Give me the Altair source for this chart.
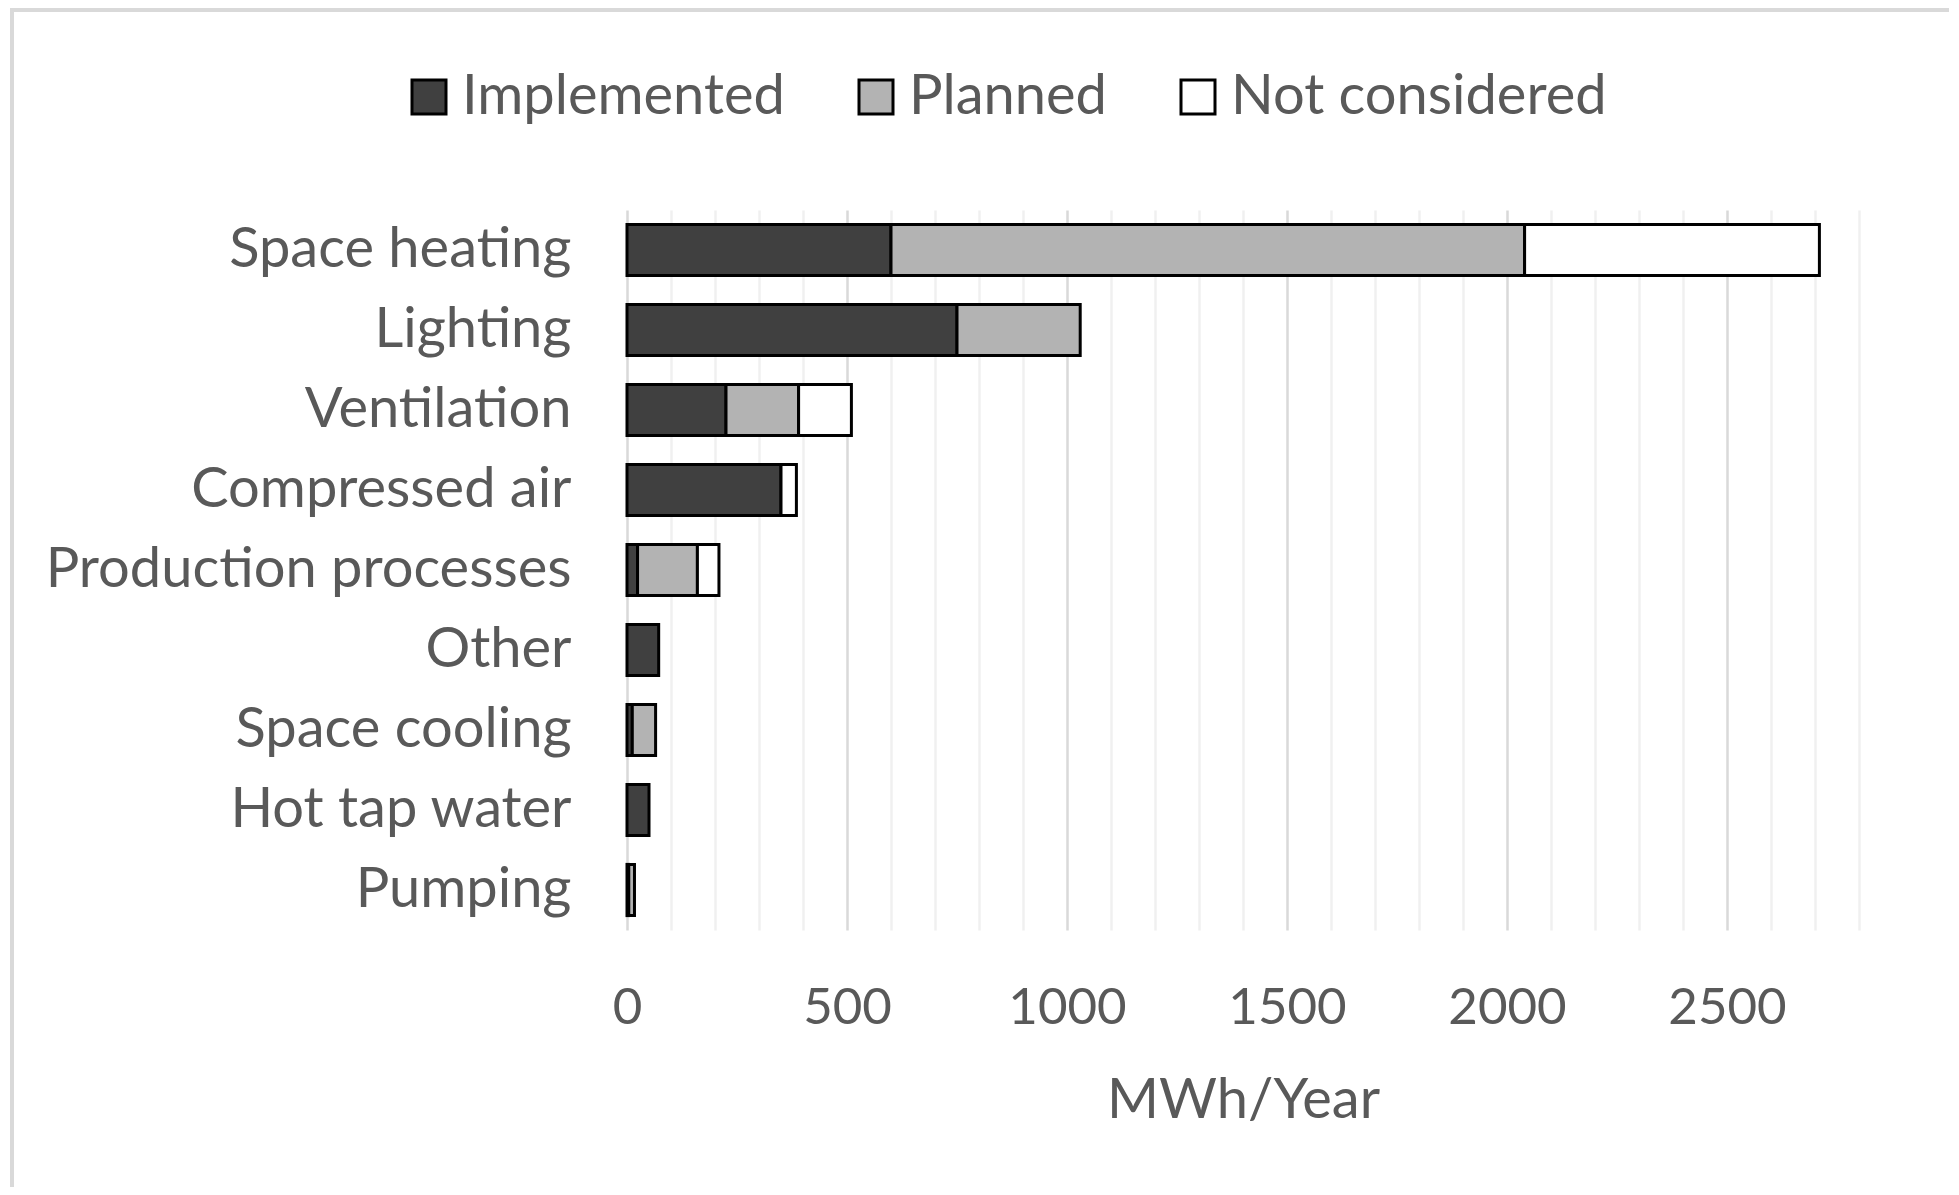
import altair as alt
import pandas as pd

categories = ["Space heating", "Lighting", "Ventilation", "Compressed air",
              "Production processes", "Other", "Space cooling", "Hot tap water", "Pumping"]
series = ["Implemented", "Planned", "Not considered"]
implemented = [600, 750, 225, 350, 24, 72, 12, 50, 4]
planned = [1440, 280, 165, 0, 136, 0, 53, 0, 13]
not_considered = [670, 0, 120, 35, 49, 0, 0, 0, 0]
x_ticks = list(range(0, 2900, 100))
colors = ["#404040", "#b3b3b3", "#ffffff"]

rows = []
for i, c in enumerate(categories):
    for k, (s, vals) in enumerate(zip(series, [implemented, planned, not_considered])):
        if vals[i] > 0:
            rows.append({"category": c, "series": s, "order": k, "value": vals[i]})
df = pd.DataFrame(rows)

FONT = "Lato"
TXT = "#595959"
FS = 56

bars = alt.Chart(df).mark_bar(stroke="black", strokeWidth=3).encode(
    y=alt.Y("category:N", sort=categories,
            scale=alt.Scale(paddingInner=0.36, paddingOuter=0.18),
            axis=alt.Axis(title=None, ticks=False, domain=False, labelPadding=56,
                          labelFontSize=FS, labelFont=FONT, labelColor=TXT, grid=False,
                          labelLimit=0)),
    x=alt.X("sum(value):Q", stack="zero",
            scale=alt.Scale(domain=[0, 2800], nice=False),
            axis=alt.Axis(title="MWh/Year", values=x_ticks, ticks=False, domain=False,
                          format="d",
                          labelExpr="datum.value % 500 === 0 ? datum.label : ''",
                          labelPadding=53, labelFontSize=51, labelFont=FONT, labelColor=TXT,
                          labelFlush=False,
                          gridColor={"condition": {"test": "datum.value % 500 === 0", "value": "#d9d9d9"},
                                     "value": "#f0f0f0"},
                          gridWidth=2.5,
                          titleFontSize=FS, titleFont=FONT, titleColor=TXT, titleFontWeight="normal",
                          titleBaseline="alphabetic", titleY=187, titleX=616, titleAlign="center")),
    color=alt.Color("series:N", scale=alt.Scale(domain=series, range=colors),
                    legend=alt.Legend(title=None, orient="none", direction="horizontal",
                                      legendX=-226, legendY=-141, symbolType="square",
                                      symbolSize=1156, symbolStrokeColor="black",
                                      symbolStrokeWidth=3, labelFontSize=FS, labelFont=FONT,
                                      labelColor=TXT, labelOffset=5, columnPadding=63,
                                      padding=0, labelLimit=0)),
    order=alt.Order("order:Q"),
)

frame_data = alt.Data(values=[{}])
top_rule = alt.Chart(frame_data).mark_rule(color="#d9d9d9", strokeWidth=4).encode(
    x=alt.value(-617), x2=alt.value(1335), y=alt.value(-200))
left_rule = alt.Chart(frame_data).mark_rule(color="#d9d9d9", strokeWidth=4).encode(
    x=alt.value(-615), y=alt.value(-202), y2=alt.value(985))

chart = alt.layer(bars, top_rule, left_rule).properties(
    width=1232, height=720,
    autosize=alt.AutoSizeParams(type="none"),
    padding={"left": 619, "top": 202, "right": 90, "bottom": 257},
).configure_view(stroke=None)

chart.save("out.html", embed_options={"renderer": "svg", "actions": False})
